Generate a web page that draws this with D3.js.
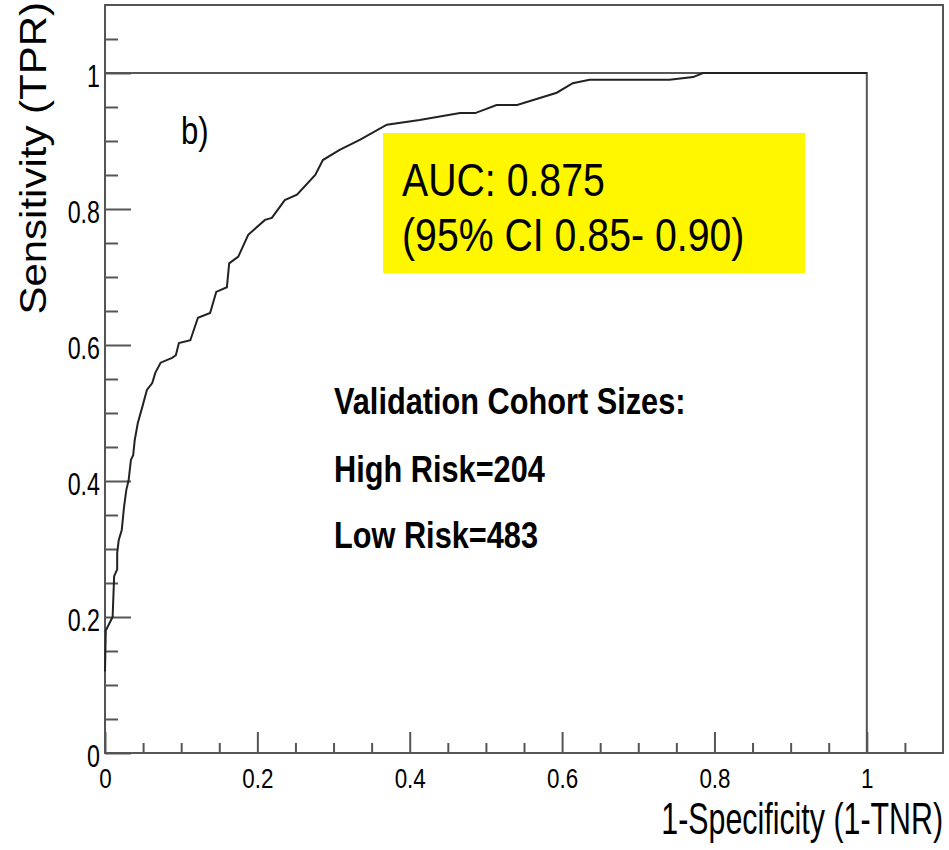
<!DOCTYPE html>
<html>
<head>
<meta charset="utf-8">
<script src="https://cdn.jsdelivr.net/npm/d3@7"></script>
<style>
  body { margin: 0; background: #fff; }
  text { font-family: "Liberation Sans", Arial, Helvetica, sans-serif; fill: #000; }
</style>
</head>
<body>
<div class="chart"></div>
<script>
// ROC curve
var fpr = [0, 0.001, 0.01, 0.012, 0.016, 0.016, 0.018, 0.022, 0.025, 0.028, 0.031, 0.034, 0.037, 0.039,
  0.043, 0.049, 0.055, 0.062, 0.066, 0.073, 0.088, 0.093, 0.097, 0.112, 0.122, 0.138, 0.146, 0.16,
  0.163, 0.175, 0.188, 0.21, 0.219, 0.236, 0.252, 0.276, 0.286, 0.308, 0.335, 0.37, 0.413, 0.466,
  0.486, 0.514, 0.541, 0.593, 0.614, 0.636, 0.741, 0.772, 0.785, 1];
var tpr = [0.12, 0.18, 0.2, 0.26, 0.27, 0.294, 0.313, 0.328, 0.362, 0.387, 0.401, 0.431, 0.438, 0.46,
  0.485, 0.509, 0.534, 0.544, 0.559, 0.574, 0.581, 0.585, 0.603, 0.607, 0.64, 0.647, 0.678, 0.685,
  0.72, 0.73, 0.762, 0.784, 0.787, 0.813, 0.821, 0.85, 0.872, 0.887, 0.902, 0.924, 0.931, 0.941,
  0.941, 0.953, 0.953, 0.971, 0.985, 0.99, 0.99, 0.994, 1.0, 1];

var majorTicks = [0, 0.2, 0.4, 0.6, 0.8, 1];
var minorTicks = [0.05, 0.1, 0.15, 0.25, 0.3, 0.35, 0.45, 0.5, 0.55, 0.65, 0.7, 0.75, 0.85, 0.9, 0.95, 1.05];
var tickLabels = ["0", "0.2", "0.4", "0.6", "0.8", "1"];

var aucText = ["AUC: 0.875", "(95% CI 0.85- 0.90)"];
var cohortText = ["Validation Cohort Sizes:", "High Risk=204", "Low Risk=483"];

var svgWidth = 949;
var svgHeight = 850;
var margin = { top: 5, right: 6, bottom: 97, left: 105 };
var width = svgWidth - margin.left - margin.right;
var height = svgHeight - margin.top - margin.bottom;

var svg = d3.select(".chart").append("svg")
  .attr("width", svgWidth)
  .attr("height", svgHeight);

var chartGroup = svg.append("g")
  .attr("transform", `translate(${margin.left}, ${margin.top})`);

var xScale = d3.scaleLinear().domain([0, 1.1]).range([0, width]);
var yScale = d3.scaleLinear().domain([0, 1.1]).range([height, 0]);

// condensed looking text
function addText(g, x, y, txt, size, sx, anchor, weight) {
  return g.append("text")
    .attr("transform", `translate(${x}, ${y}) scale(${sx}, 1)`)
    .attr("text-anchor", anchor || "start")
    .attr("font-size", size + "px")
    .attr("font-weight", weight || "normal")
    .text(txt);
}

// frame
chartGroup.append("rect")
  .attr("x", 0).attr("y", 0)
  .attr("width", width).attr("height", height)
  .attr("fill", "none")
  .attr("stroke", "#555")
  .attr("stroke-width", 2);

// box at (1,1)
chartGroup.append("path")
  .attr("d", d3.line()([[xScale(0), yScale(1)], [xScale(1), yScale(1)], [xScale(1), yScale(0)]]))
  .attr("fill", "none")
  .attr("stroke", "#555")
  .attr("stroke-width", 2);

// axes: ticks drawn inwards
var xMajor = d3.axisBottom(xScale).tickValues(majorTicks).tickSizeInner(-21).tickSizeOuter(0)
  .tickFormat((d, i) => tickLabels[i]);
var xMinor = d3.axisBottom(xScale).tickValues(minorTicks).tickSizeInner(-10).tickSizeOuter(0)
  .tickFormat("");
var yMajor = d3.axisLeft(yScale).tickValues(majorTicks).tickSizeInner(-26).tickSizeOuter(0)
  .tickFormat((d, i) => tickLabels[i]);
var yMinor = d3.axisLeft(yScale).tickValues(minorTicks).tickSizeInner(-13).tickSizeOuter(0)
  .tickFormat("");

var gx = chartGroup.append("g").attr("transform", `translate(0, ${height})`).call(xMajor);
chartGroup.append("g").attr("transform", `translate(0, ${height})`).call(xMinor);
var gy = chartGroup.append("g").call(yMajor);
chartGroup.append("g").call(yMinor);

chartGroup.selectAll(".domain").remove();
chartGroup.selectAll(".tick line").attr("stroke", "#555").attr("stroke-width", 2);

gx.selectAll(".tick text")
  .attr("x", null).attr("y", null).attr("dy", null)
  .attr("transform", "translate(0, 35) scale(0.8, 1)")
  .attr("font-size", "28px")
  .attr("text-anchor", "middle");

gy.selectAll(".tick text")
  .attr("x", null).attr("y", null).attr("dy", null)
  .attr("transform", "translate(-5, 13) scale(0.75, 1)")
  .attr("font-size", "31px")
  .attr("text-anchor", "end");

// ROC curve
var rocLine = d3.line()
  .x(d => xScale(d[0]))
  .y(d => yScale(d[1]));

chartGroup.append("path")
  .datum(fpr.map((f, i) => [f, tpr[i]]))
  .attr("d", rocLine)
  .attr("fill", "none")
  .attr("stroke", "#222")
  .attr("stroke-width", 2);

// AUC box
chartGroup.append("rect")
  .attr("x", 383 - margin.left).attr("y", 133 - margin.top)
  .attr("width", 422).attr("height", 140)
  .attr("fill", "#fff700");

addText(svg, 402, 196, aucText[0], 47, 0.835);
addText(svg, 402, 251, aucText[1], 47, 0.835);

addText(svg, 181, 144, "b)", 38, 0.82);

addText(svg, 334, 414, cohortText[0], 37, 0.83, "start", "bold");
addText(svg, 334, 482, cohortText[1], 37, 0.83, "start", "bold");
addText(svg, 334, 548, cohortText[2], 37, 0.83, "start", "bold");

// axis titles
addText(svg, 943, 834, "1-Specificity (1-TNR)", 44, 0.69, "end");

svg.append("text")
  .attr("transform", "translate(46, 2) rotate(-90) scale(1, 0.9)")
  .attr("text-anchor", "end")
  .attr("font-size", "42px")
  .text("Sensitivity (TPR)");
</script>
</body>
</html>
